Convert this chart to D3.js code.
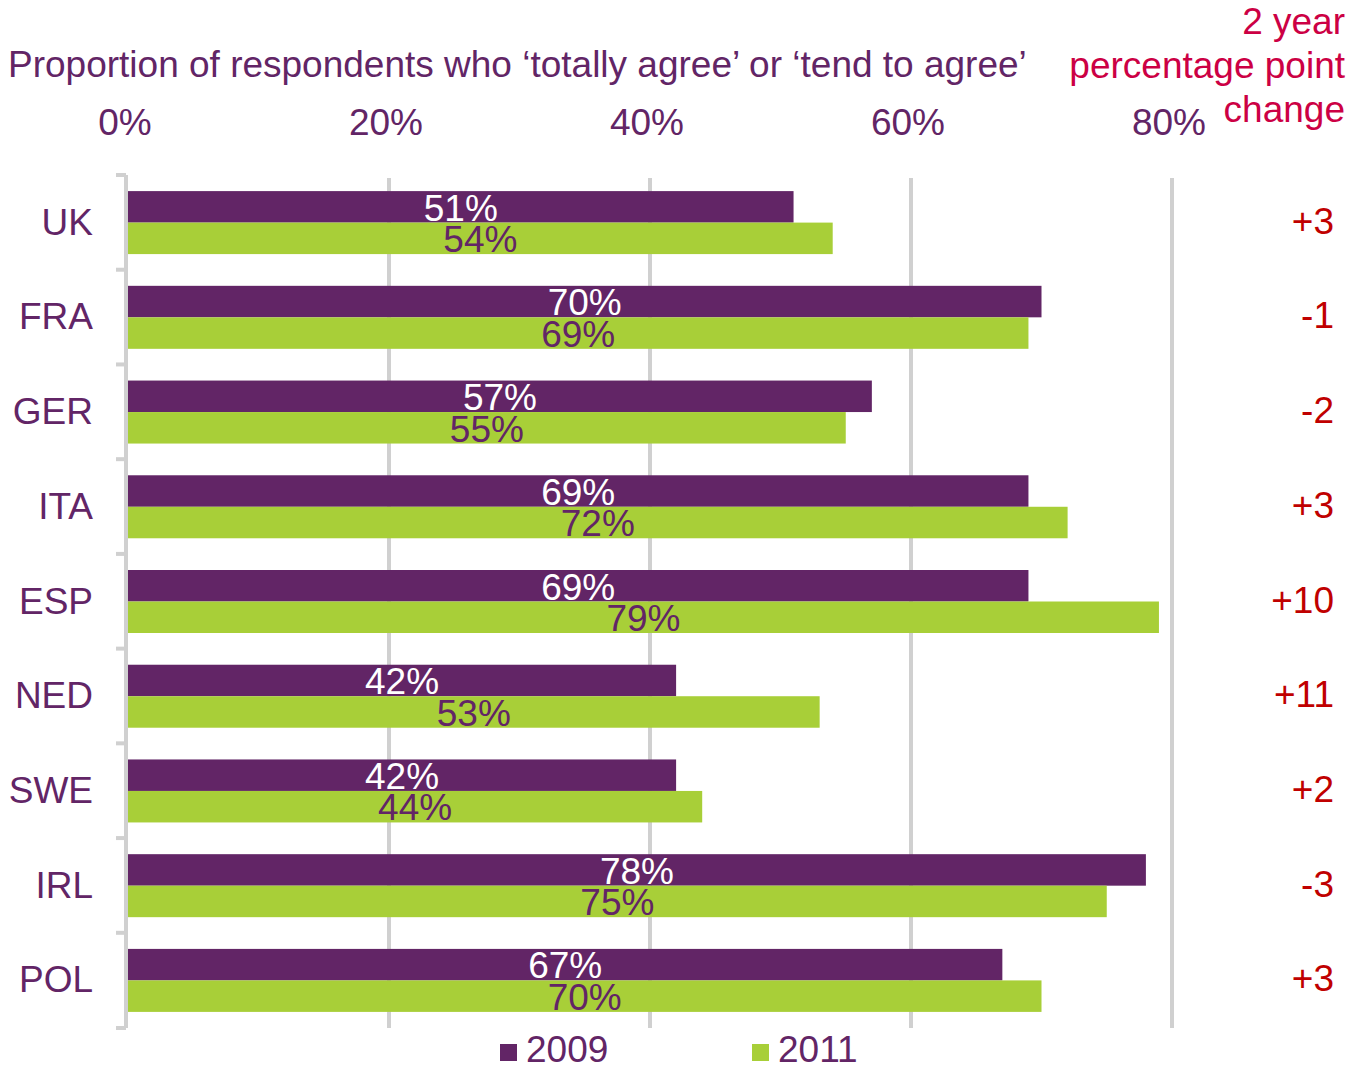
<!DOCTYPE html>
<html><head><meta charset="utf-8">
<script src="https://cdn.jsdelivr.net/npm/d3@7"></script>
<style>body{margin:0;background:#fff}svg{display:block}text{font-family:"Liberation Sans",Arial,sans-serif}</style>
</head><body><svg id="c" width="1352" height="1069"></svg>
<script>
const categories = ["UK","FRA","GER","ITA","ESP","NED","SWE","IRL","POL"];
const values2009 = [51,70,57,69,69,42,42,78,67];
const values2011 = [54,69,55,72,79,53,44,75,70];
const changes = ["+3","-1","-2","+3","+10","+11","+2","-3","+3"];
const tickValues = [0,20,40,60,80];
const seriesNames = ["2009","2011"];

const purple = "#622566", green = "#a8cf38", grid = "#d0d0d0", red = "#c00000", crimson = "#cc0044";
const FS = 37;
const svg = d3.select("#c");
const x = d3.scaleLinear().domain([0,80]).range([128,1172]);
const y = d3.scaleBand().domain(categories).range([175,1028]).paddingInner(0.335).paddingOuter(0.17);
const sub = d3.scaleBand().domain(seriesNames).range([0,y.bandwidth()]);

// gridlines
svg.append("g").selectAll("line").data(tickValues.filter(d=>d>0)).join("line")
  .attr("x1",d=>x(d)).attr("x2",d=>x(d)).attr("y1",178).attr("y2",1028)
  .attr("stroke",grid).attr("stroke-width",4);

// left axis with ticks at band boundaries
const bounds = categories.map((c,i)=>175 + i*y.step());
bounds.push(1028);
svg.append("line").attr("x1",126).attr("x2",126).attr("y1",175).attr("y2",1028).attr("stroke",grid).attr("stroke-width",4);
svg.append("g").selectAll("line").data(bounds).join("line")
  .attr("x1",116).attr("x2",126).attr("y1",d=>d).attr("y2",d=>d).attr("stroke",grid).attr("stroke-width",4);

// bars
const rows = categories.map((c,i)=>({c, v:[values2009[i], values2011[i]]}));
const g = svg.append("g");
g.selectAll("rect.b9").data(rows).join("rect")
  .attr("x",x(0)).attr("y",d=>y(d.c)+sub("2009")).attr("width",d=>x(d.v[0])-x(0)).attr("height",sub.bandwidth()).attr("fill",purple);
g.selectAll("rect.b11").data(rows).join("rect")
  .attr("x",x(0)).attr("y",d=>y(d.c)+sub("2011")).attr("width",d=>x(d.v[1])-x(0)).attr("height",sub.bandwidth()).attr("fill",green);

// bar labels
g.selectAll("text.l9").data(rows).join("text")
  .attr("x",d=>(x(0)+x(d.v[0]))/2).attr("y",d=>y(d.c)+sub("2009")+sub.bandwidth()-2)
  .attr("text-anchor","middle").attr("font-size",FS).attr("fill","#fff").text(d=>d.v[0]+"%");
g.selectAll("text.l11").data(rows).join("text")
  .attr("x",d=>(x(0)+x(d.v[1]))/2).attr("y",d=>y(d.c)+sub("2011")+sub.bandwidth()-2)
  .attr("text-anchor","middle").attr("font-size",FS).attr("fill",purple).text(d=>d.v[1]+"%");

// category labels
svg.append("g").selectAll("text").data(categories).join("text")
  .attr("x",93).attr("y",d=>y(d)+y.bandwidth()/2+12).attr("text-anchor","end")
  .attr("font-size",FS).attr("fill",purple).text(d=>d);

// changes
svg.append("g").selectAll("text").data(categories).join("text")
  .attr("x",1334).attr("y",d=>y(d)+y.bandwidth()/2+11).attr("text-anchor","end")
  .attr("font-size",FS).attr("fill",red).text((d,i)=>changes[i]);

// top axis tick labels
svg.append("g").selectAll("text").data(tickValues).join("text")
  .attr("x",d=>x(d)-3).attr("y",135).attr("text-anchor","middle")
  .attr("font-size",FS).attr("fill",purple).text(d=>d+"%");

// title
svg.append("text").attr("x",8).attr("y",77).attr("font-size",FS).attr("fill",purple)
  .text("Proportion of respondents who ‘totally agree’ or ‘tend to agree’");

// change header
const hdr = ["2 year","percentage point","change"];
svg.append("g").selectAll("text").data(hdr).join("text")
  .attr("x",1345).attr("y",(d,i)=>34+i*44).attr("text-anchor","end")
  .attr("font-size",FS).attr("fill",crimson).text(d=>d);

// legend
const leg = svg.append("g");
const lx = [500,752];
seriesNames.forEach((s,i)=>{
  leg.append("rect").attr("x",lx[i]).attr("y",1044).attr("width",17).attr("height",17).attr("fill",i?green:purple);
  leg.append("text").attr("x",lx[i]+26).attr("y",1062).attr("font-size",FS).attr("fill",purple).text(s);
});
</script></body></html>
